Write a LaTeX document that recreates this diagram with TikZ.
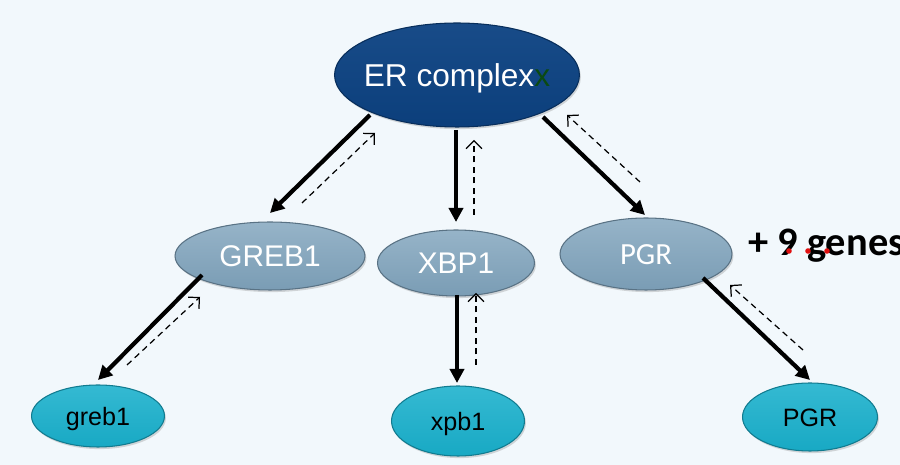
\documentclass[tikz,border=0pt]{standalone}
\usepackage{fontspec}
\setmainfont{Liberation Sans}
\newfontfamily\calib{Carlito}
\usepackage{tikz}
\usetikzlibrary{calc,arrows.meta,shapes.geometric,shadows}
\definecolor{bg}{HTML}{F2F8FC}
\definecolor{navy}{HTML}{0C4282}
\definecolor{steel}{HTML}{7FA3BC}
\definecolor{cyanish}{HTML}{19B0CC}
\definecolor{xgreen}{HTML}{0B4A12}
\definecolor{dotred}{HTML}{E01010}
\newcommand{\zw}[1]{\makebox[0pt]{#1}}
\tikzset{
  blob/.style={ellipse, inner sep=0pt, line width=0.6pt,
    drop shadow={opacity=0.3, shadow xshift=0.8pt, shadow yshift=-1.2pt}},
  hub/.style={blob, draw=navy!70!black, top color=navy!95!white, bottom color=navy!95!black,
    text=white, font=\fontsize{18}{20}\selectfont, text height=13pt, text depth=0pt},
  prot/.style={blob, draw=steel!70!black, top color=steel!82!white, bottom color=steel!96!black,
    text=white, font=\fontsize{17}{19}\selectfont, text height=12.2pt, text depth=0pt},
  gene/.style={blob, draw=cyanish!70!black, top color=cyanish!88!white, bottom color=cyanish!96!black,
    text=black, font=\fontsize{14.3}{16}\selectfont, text height=10.3pt, text depth=0pt},
  fwd/.style={draw=black, line width=2.4pt, -{Triangle[length=8pt,width=8pt]}},
  back/.style={draw=black, line width=0.7pt, dash pattern=on 3.5pt off 2.5pt,
    -{Straight Barb[length=4.5pt,width=9pt]}},
  moretxt/.style={font=\calib\bfseries\fontsize{23}{25}\selectfont, inner sep=0pt},
}
\begin{document}
\begin{tikzpicture}[x=0.02cm,y=-0.02cm]
  \useasboundingbox (0,0) rectangle (900,465);
  \clip (0,0) rectangle (900,465);
  \fill[bg] (0,0) rectangle (900,465);

  % hub
  \node[hub, minimum width=4.9cm, minimum height=2.08cm] (er) at (457,75)
    {\zw{ER complex\textcolor{xgreen}{x}}};

  % regulated proteins
  \node[prot, minimum width=3.8cm, minimum height=1.36cm] (greb) at (270,256) {\zw{GREB1}};
  \node[prot, minimum width=3.14cm, minimum height=1.32cm] (xbp) at (456,263) {\zw{XBP1}};
  \node[prot, minimum width=3.44cm, minimum height=1.44cm] (pgr) at (646,254)
    {\zw{\calib\fontsize{17.5}{19}\selectfont PGR}};
  \node[moretxt, anchor=base west] (more) at (748,256) {+ 9 genes};
  \foreach \dx in {789,808,827}
    \fill[dotred] (\dx,251) circle (2.8);

  % genes
  \node[gene, minimum width=2.66cm, minimum height=1.24cm] (grebg) at (98,416) {\zw{greb1}};
  \node[gene, minimum width=2.66cm, minimum height=1.4cm] (xbpg) at (458,421) {\zw{xpb1}};
  \node[gene, minimum width=2.7cm, minimum height=1.36cm] (pgrg) at (810,417) {\zw{PGR}};

  % hub -> proteins
  \draw[fwd] ($(er)+(-87,40)$) -- ($(greb)+(0,-43)$);
  \draw[back] ($(greb)+(32,-53)$) -- ($(er)+(-82,58)$);
  \draw[fwd] ($(er)+(-1,55)$) -- ($(xbp)+(0,-41)$);
  \draw[back] ($(xbp)+(18,-48)$) -- ($(er)+(17,65)$);
  \draw[fwd] ($(er)+(86,42)$) -- ($(pgr)+(-1,-39)$);
  \draw[back] ($(pgr)+(-6,-72)$) -- ($(er)+(110,40)$);

  % proteins -> genes
  \draw[fwd] ($(greb)+(-68,19)$) -- ($(grebg)+(0,-36)$);
  \draw[back] ($(grebg)+(29,-51)$) -- ($(greb)+(-70,41)$);
  \draw[fwd] ($(xbp)+(1,32)$) -- ($(xbpg)+(-1,-38)$);
  \draw[back] ($(xbpg)+(18,-56)$) -- ($(xbp)+(20,30)$);
  \draw[fwd] ($(pgr)+(57,24)$) -- ($(pgrg)+(0,-37)$);
  \draw[back] ($(pgrg)+(-7,-67)$) -- ($(pgr)+(84,31)$);
\end{tikzpicture}
\end{document}
